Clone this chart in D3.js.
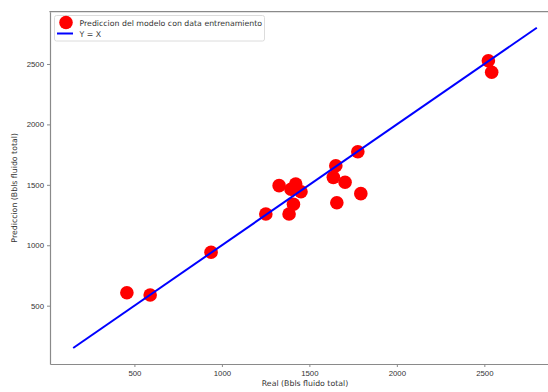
<!DOCTYPE html>
<html>
<head>
<meta charset="utf-8">
<script src="https://cdn.jsdelivr.net/npm/d3@7"></script>
<style>
  body { margin: 0; background: #fff; }
  svg { display: block; font-family: "DejaVu Sans", sans-serif; }
</style>
</head>
<body>
<div id="chart"></div>
<script>
const width = 548;
const height = 392;

// Real vs predicted (Bbls fluido total)
const realVals = [457, 590, 938, 1251, 1327, 1395, 1422, 1452, 1409, 1384,
                  1651, 1637, 1704, 1657, 1794, 1777, 2523, 2542];
const predVals = [607, 588, 942, 1259, 1493, 1463, 1507, 1443, 1339, 1259,
                  1658, 1562, 1521, 1352, 1427, 1774, 2527, 2431];
const lineEnds = [150, 2800];
const tickVals = [500, 1000, 1500, 2000, 2500];

const margin = {left: 50, top: 11.7, right: -12, bottom: 28};
const fontSize = "7.8px";

const x = d3.scaleLinear()
    .domain([17.5, 2932.5])
    .range([margin.left, width - margin.right]);
const y = d3.scaleLinear()
    .domain([17.5, 2932.5])
    .range([height - margin.bottom, margin.top]);

const svg = d3.select("#chart").append("svg")
    .attr("width", width)
    .attr("height", height);

// axes
const xAxis = svg.append("g")
    .attr("transform", `translate(0,${y.range()[0]})`)
    .call(d3.axisBottom(x).tickValues(tickVals).tickSizeInner(3).tickSizeOuter(0)
        .tickPadding(3).tickFormat(d3.format("d")));
const yAxis = svg.append("g")
    .attr("transform", `translate(${margin.left},0)`)
    .call(d3.axisLeft(y).tickValues(tickVals).tickSizeInner(3).tickSizeOuter(0)
        .tickPadding(3).tickFormat(d3.format("d")));

[xAxis, yAxis].forEach(g => {
    g.select(".domain").attr("stroke", "#8a8a8a").attr("stroke-width", 1.2);
    g.selectAll(".tick line").attr("stroke", "#8a8a8a");
    g.selectAll(".tick text").attr("fill", "#333").style("font-size", fontSize);
});

// top spine
svg.append("line")
    .attr("x1", x.range()[0] - 0.6).attr("x2", x.range()[1])
    .attr("y1", y.range()[1]).attr("y2", y.range()[1])
    .attr("stroke", "#8a8a8a").attr("stroke-width", 1.2);

// scatter points
svg.append("g")
    .selectAll("circle")
    .data(realVals.map((r, i) => [r, predVals[i]]))
    .join("circle")
    .attr("cx", d => x(d[0]))
    .attr("cy", d => y(d[1]))
    .attr("r", 6.8)
    .attr("fill", "#ff0000");

// Y = X line
svg.append("line")
    .attr("x1", x(lineEnds[0])).attr("y1", y(lineEnds[0]))
    .attr("x2", x(lineEnds[1])).attr("y2", y(lineEnds[1]))
    .attr("stroke", "#0000ff")
    .attr("stroke-width", 2);

// axis labels
svg.append("text")
    .attr("x", 305).attr("y", 386)
    .attr("text-anchor", "middle")
    .attr("fill", "#333")
    .style("font-size", fontSize)
    .text("Real (Bbls fluido total)");
svg.append("text")
    .attr("transform", `translate(17,${(y.range()[0] + y.range()[1]) / 2}) rotate(-90)`)
    .attr("text-anchor", "middle")
    .attr("fill", "#333")
    .style("font-size", fontSize)
    .text("Prediccion (Bbls fluido total)");

// legend
const legend = svg.append("g");
legend.append("rect")
    .attr("x", 54.5).attr("y", 15.5)
    .attr("width", 210).attr("height", 25.5)
    .attr("rx", 2)
    .attr("fill", "#fff").attr("fill-opacity", 0.8)
    .attr("stroke", "#dcdcdc");
legend.append("circle")
    .attr("cx", 66).attr("cy", 22.5).attr("r", 6.8)
    .attr("fill", "#ff0000");
legend.append("line")
    .attr("x1", 57).attr("x2", 73).attr("y1", 33.5).attr("y2", 33.5)
    .attr("stroke", "#0000ff").attr("stroke-width", 2);
legend.append("text")
    .attr("x", 79.5).attr("y", 25.5)
    .attr("fill", "#333").style("font-size", fontSize)
    .text("Prediccion del modelo con data entrenamiento");
legend.append("text")
    .attr("x", 79.5).attr("y", 36.5)
    .attr("fill", "#333").style("font-size", fontSize)
    .text("Y = X");
</script>
</body>
</html>
